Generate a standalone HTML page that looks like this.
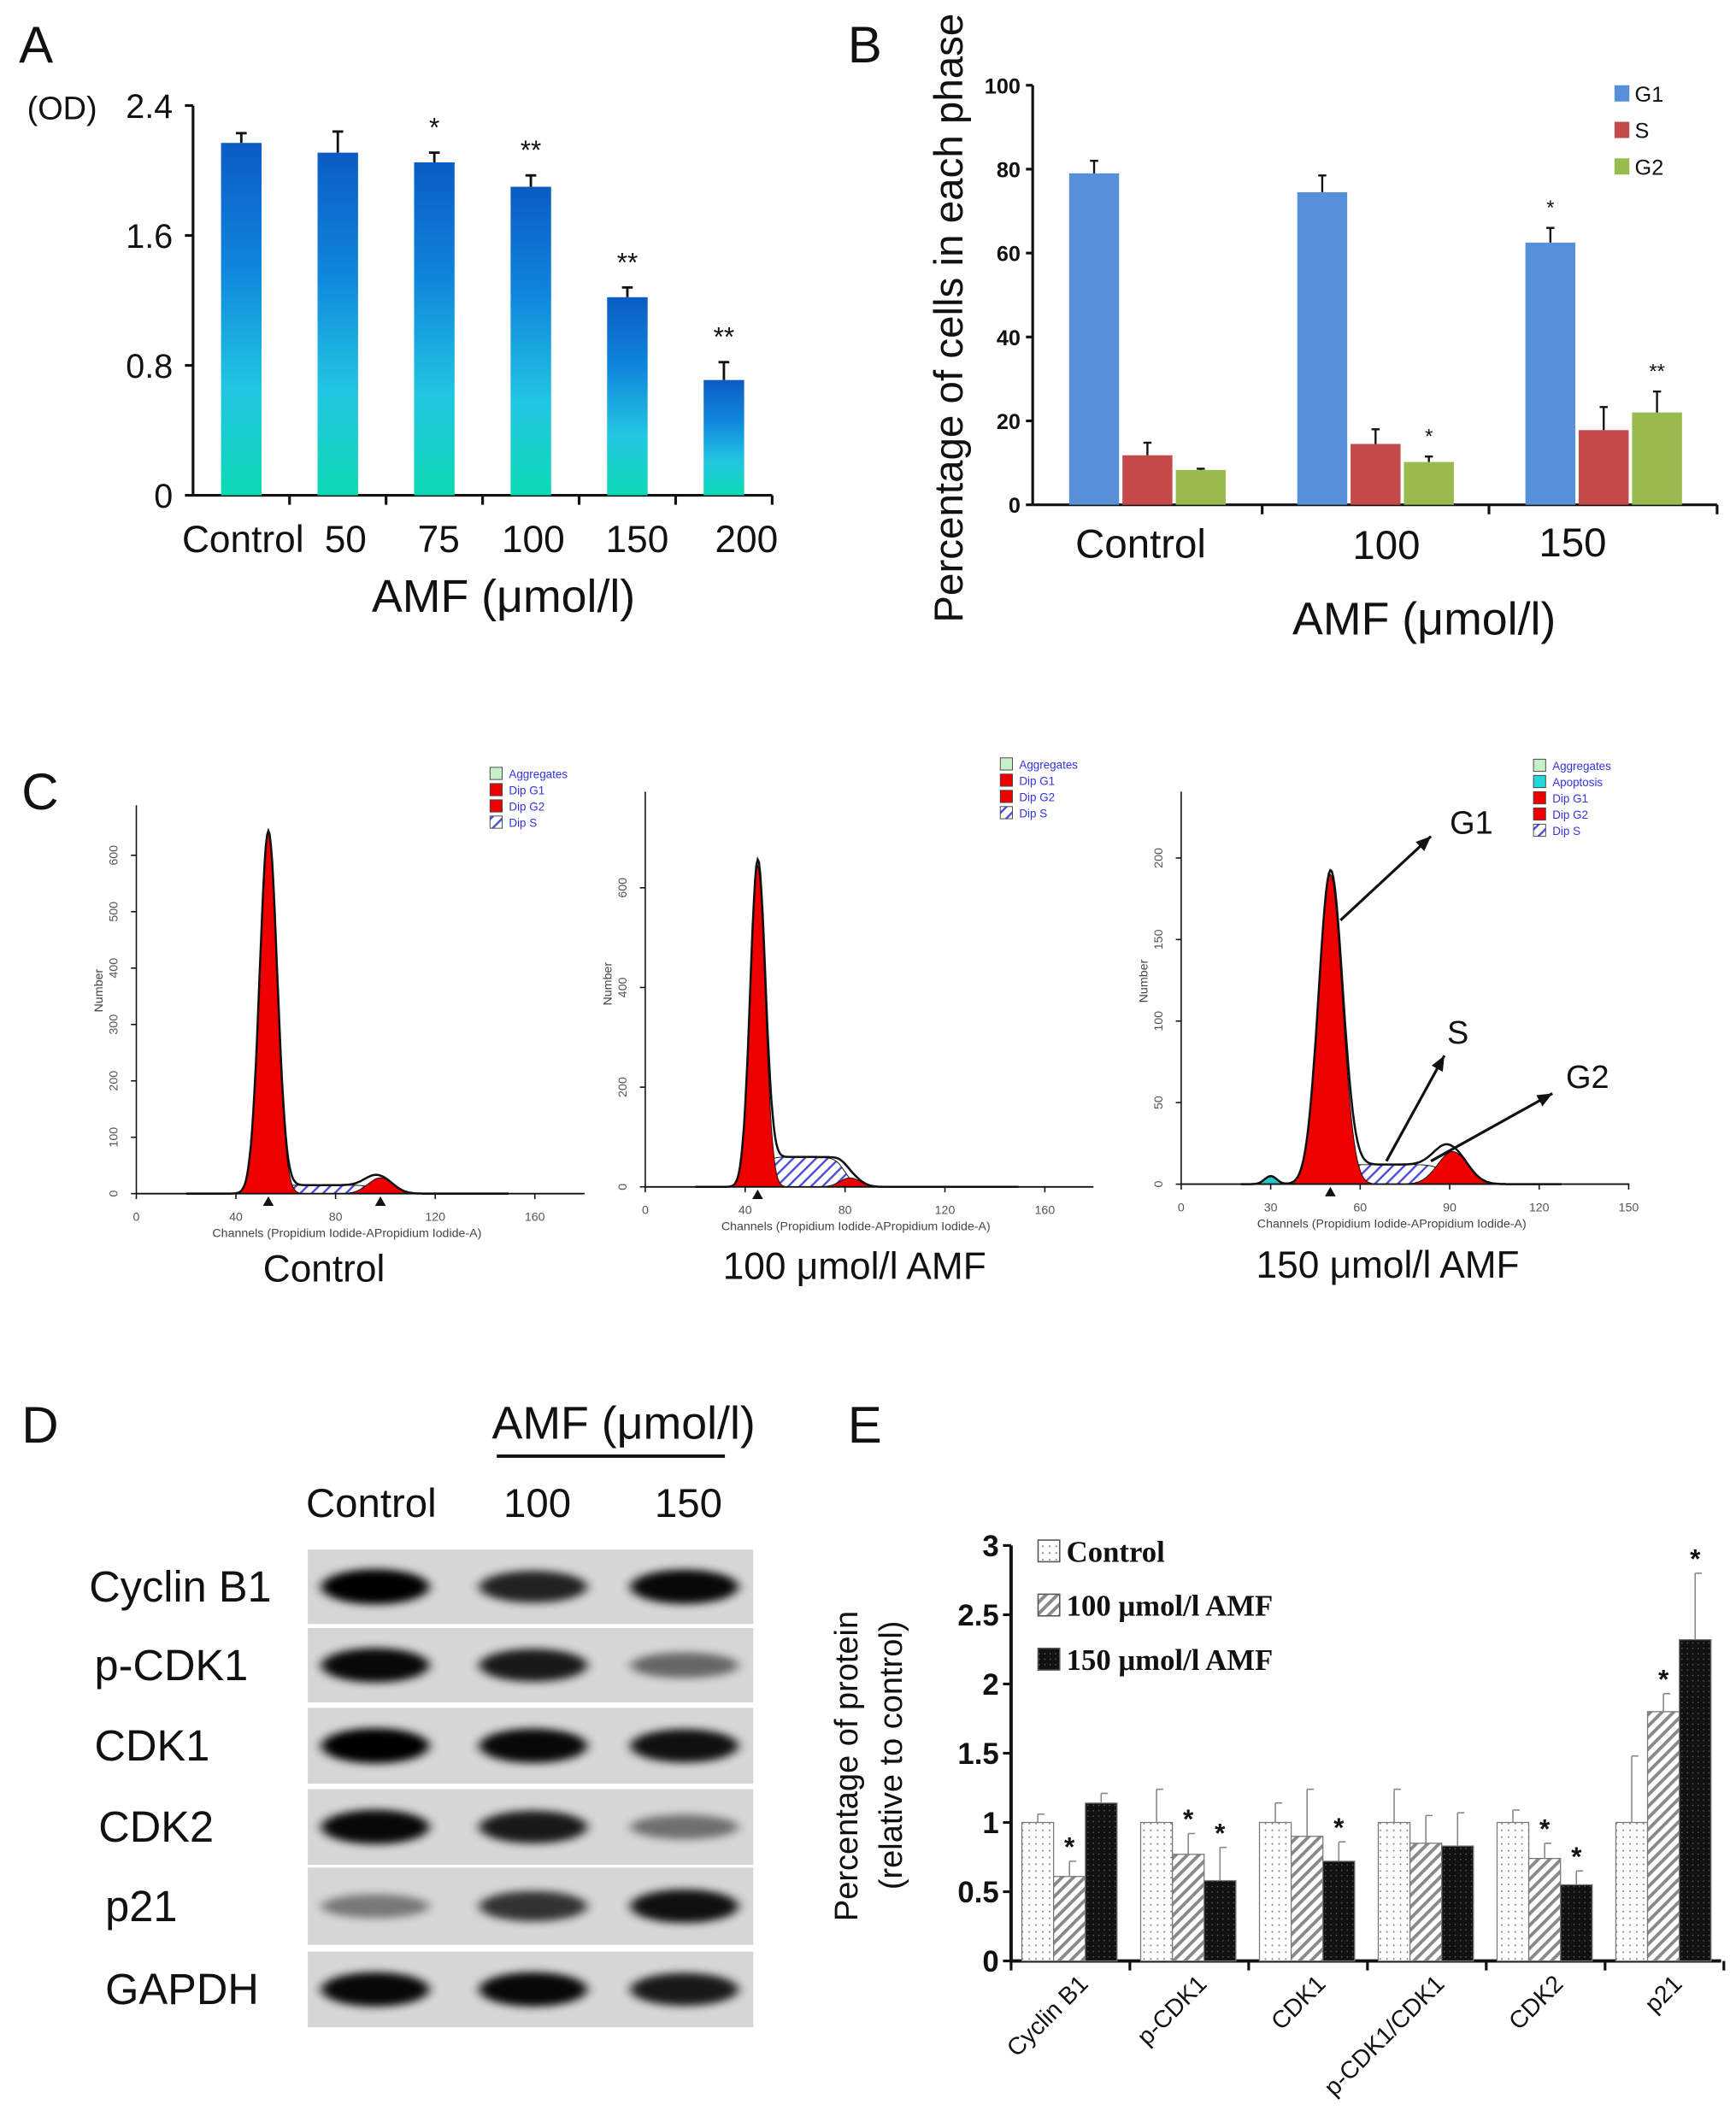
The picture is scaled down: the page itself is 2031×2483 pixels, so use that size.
<!DOCTYPE html>
<html><head><meta charset="utf-8">
<style>
html,body{margin:0;padding:0;background:#fff;}
svg{display:block;font-family:"Liberation Sans",sans-serif;}
</style></head>
<body>
<svg id="fig" xmlns="http://www.w3.org/2000/svg" width="2031" height="2483" viewBox="0 0 1286 1568" preserveAspectRatio="none">
<defs>
<linearGradient id="gA" x1="0" y1="0" x2="0" y2="1">
<stop offset="0" stop-color="#0b5cc2"/><stop offset="0.35" stop-color="#0f86dc"/><stop offset="0.7" stop-color="#22c6e2"/><stop offset="1" stop-color="#0cd9b4"/>
</linearGradient>
<pattern id="pDots" width="5" height="5" patternUnits="userSpaceOnUse"><rect width="5" height="5" fill="#fff"/><circle cx="2.5" cy="2.5" r="0.6" fill="#777"/></pattern>
<pattern id="pHatch" width="6" height="6" patternUnits="userSpaceOnUse" patternTransform="rotate(45)"><rect width="6" height="6" fill="#fff"/><rect width="2.4" height="6" fill="#888"/></pattern>
<pattern id="pDark" width="4" height="4" patternUnits="userSpaceOnUse"><rect width="4" height="4" fill="#111"/><circle cx="2" cy="2" r="0.5" fill="#666"/></pattern>
<pattern id="pBlue" width="6" height="6" patternUnits="userSpaceOnUse" patternTransform="rotate(45)"><rect width="6" height="6" fill="#fff"/><rect width="1.5" height="6" fill="#4a4ad8"/></pattern>
<filter id="blur" x="-30%" y="-80%" width="160%" height="260%"><feGaussianBlur stdDeviation="4 3"/></filter>
<filter id="blurBg"><feGaussianBlur stdDeviation="2"/></filter>
</defs>
</svg>
<script>
// ---------- Panel A data ----------
const aCats = ["Control","50","75","100","150","200"];
const aVals = [2.17,2.11,2.05,1.90,1.22,0.71];
const aErr  = [0.06,0.13,0.06,0.07,0.06,0.11];
const aStars = ["","","*","**","**","**"];
const aTicks = [0,0.8,1.6,2.4];
const aTickLabels = ["0","0.8","1.6","2.4"];
// ---------- Panel B data ----------
const bCats = ["Control","100","150"];
const bSeries = ["G1","S","G2"];
const bG1 = [79,74.5,62.5];
const bS  = [11.8,14.5,17.8];
const bG2 = [8.3,10.2,22];
const bG1Err = [3,4,3.5];
const bSErr  = [3,3.5,5.5];
const bG2Err = [0.3,1.3,5];
const bG1Stars = ["","","*"];
const bSStars = ["","",""];
const bG2Stars = ["","*","**"];
const bTicks = [0,20,40,60,80,100];
// ---------- Panel C data (peak parameters) ----------
const cTitles = ["Control","100 μmol/l AMF","150 μmol/l AMF"];
const cG1Mean = [53,45,50];
const cG1Sd = [3.5,3,4];
const cG1H = [640,644,190];
const cG2Mean = [98,82,91];
const cG2Sd = [5,4,5];
const cG2H = [28,18,20];
const cSH = [15,60,12];
const cApoH = [0,0,5];
const cXTicks = [[0,40,80,120,160],[0,40,80,120,160],[0,30,60,90,120,150]];
const cYTicks = [[0,100,200,300,400,500,600],[0,200,400,600],[0,50,100,150,200]];
// ---------- Panel D data ----------
const dRows = ["Cyclin B1","p-CDK1","CDK1","CDK2","p21","GAPDH"];
const dLanes = ["Control","100","150"];
const dIntensity = [[1,0.8,0.95],[0.95,0.85,0.4],[1,0.95,0.9],[0.95,0.85,0.35],[0.3,0.7,0.9],[0.95,0.95,0.85]];
// ---------- Panel E data ----------
const eCats = ["Cyclin B1","p-CDK1","CDK1","p-CDK1/CDK1","CDK2","p21"];
const eSeries = ["Control","100 μmol/l AMF","150 μmol/l AMF"];
const eCtrl = [1,1,1,1,1,1];
const e100 = [0.61,0.77,0.90,0.85,0.74,1.80];
const e150 = [1.14,0.58,0.72,0.83,0.55,2.32];
const eCtrlErr = [0.06,0.24,0.14,0.24,0.09,0.48];
const e100Err = [0.11,0.15,0.34,0.20,0.11,0.13];
const e150Err = [0.07,0.24,0.14,0.24,0.10,0.48];
const e100Stars = ["*","*","","","*","*"];
const e150Stars = ["","*","*","","*","*"];
const eTicks = [0,0.5,1,1.5,2,2.5,3];
const eTickLabels = ["0","0.5","1","1.5","2","2.5","3"];

const NS="http://www.w3.org/2000/svg";
const svg=document.getElementById('fig');
function mk(tag,attrs,parent,txt){const e=document.createElementNS(NS,tag);for(const k in attrs)e.setAttribute(k,attrs[k]);if(txt!==undefined)e.textContent=txt;(parent||svg).appendChild(e);return e;}
function grp(name){const g=mk('g',{});return g;}
function txt(p,x,y,s,opts,name){const o=Object.assign({x:x,y:y,'font-size':s},opts||{});const t=mk('text',o,p,s===undefined?'':undefined);return t;}
function T(p,x,y,size,content,name,extra){const t=mk('text',Object.assign({x:x,y:y,'font-size':size,fill:'#111'},extra||{}),p,content);return t;}
function line(p,x1,y1,x2,y2,w,c){return mk('line',{x1:x1,y1:y1,x2:x2,y2:y2,stroke:c||'#111','stroke-width':w||1.5},p);}

// panel letters
[["A",14,46],["B",628,46],["C",16,598],["D",16,1066],["E",628,1066]].forEach(l=>{T(svg,l[1],l[2],38,l[0],'panel-label-'+l[0].toLowerCase());});

// ========== Panel A ==========
(function(){
const g=grp('panel-a-chart');
const ax=143, y0=366, yTop=78, xEnd=572;
const y=v=>y0-v/2.4*(y0-yTop);
const slot=(xEnd-ax)/6;
const xc=i=>ax+slot*(i+0.5);
line(g,ax,yTop,ax,y0,2);line(g,ax,y0,xEnd,y0,2);
aTicks.forEach((t,i)=>{line(g,ax-6,y(t),ax,y(t),2);T(g,128,y(t)+9,25,aTickLabels[i],'y-tick-label',{'text-anchor':'end'});});
for(let i=1;i<=6;i++)line(g,ax+slot*i,y0,ax+slot*i,y0+7,2);
T(g,20,88,24,"(OD)",'y-axis-unit');
aVals.forEach((v,i)=>{
 const b=mk('rect',{x:xc(i)-15,y:y(v),width:30,height:y0-y(v),fill:'url(#gA)'},g);
 
 line(g,xc(i),y(v),xc(i),y(v+aErr[i]),1.8);line(g,xc(i)-4,y(v+aErr[i]),xc(i)+4,y(v+aErr[i]),1.8);
 if(aStars[i])T(g,xc(i),y(v+aErr[i])-12,20,aStars[i],'significance-star',{'text-anchor':'middle'});
});
const lx=[180,256,325,395,472,553];
aCats.forEach((c,i)=>T(g,lx[i],408,28,c,'x-tick-label',{'text-anchor':'middle'}));
T(g,373,452,34,"AMF (μmol/l)",'x-axis-title',{'text-anchor':'middle'});
})();

// ========== Panel B ==========
(function(){
const g=grp('panel-b-chart');
const ax=765,y0=373,yTop=63,xEnd=1272;
const y=v=>y0-v/100*(y0-yTop);
const groupStart=[792,961,1130];
const cols=["#5590d8","#c44a4a","#98ba4e"];
const vals=[bG1,bS,bG2],errs=[bG1Err,bSErr,bG2Err],stars=[bG1Stars,bSStars,bG2Stars];
line(g,ax,yTop,ax,y0,2);line(g,ax,y0,xEnd,y0,2);
bTicks.forEach(t=>{line(g,ax-5,y(t),ax,y(t),2);T(g,756,y(t)+6,16,String(t),'y-tick-label',{'text-anchor':'end','font-weight':'bold'});});
[935,1103,1272].forEach(x=>line(g,x,y0,x,y0+7,2));
bCats.forEach((c,ci)=>{
 vals.forEach((arr,si)=>{
  const x=groupStart[ci]+si*39.5, w=37, v=arr[ci];
  const r=mk('rect',{x:x,y:y(v),width:w,height:y0-y(v),fill:cols[si]},g);
  
  const xm=x+w/2, et=y(v+errs[si][ci]);
  line(g,xm,y(v),xm,et,1.5);line(g,xm-3,et,xm+3,et,1.5);
  if(stars[si][ci])T(g,xm,et-10,15,stars[si][ci],'significance-star',{'text-anchor':'middle'});
 });
});
[[845,412],[1027,413],[1165,411]].forEach((p,i)=>T(g,p[0],p[1],30,bCats[i],'x-tick-label',{'text-anchor':'middle'}));
T(g,1055,469,34,"AMF (μmol/l)",'x-axis-title',{'text-anchor':'middle'});
T(g,0,0,30,"Percentage of cells in each phase",'y-axis-title',{'text-anchor':'middle',transform:'translate(713,235) rotate(-90)'});
bSeries.forEach((s,i)=>{const yy=69+i*27;const r=mk('rect',{x:1196,y:yy-6,width:11,height:12,fill:cols[i]},g);T(g,1211,yy+6,16,s,'legend-label');});
})();

// ========== Panel C ==========
(function(){
const cfg=[
 {x0:101,ppc:1.845,yz:882,ppn:250/600,xEnd:433,yTop:595,legX:363,legY:572,leg:["Aggregates","Dip G1","Dip G2","Dip S"],xmax:176},
 {x0:478,ppc:1.85,yz:877,ppn:221/600,xEnd:810,yTop:585,legX:741,legY:565,leg:["Aggregates","Dip G1","Dip G2","Dip S"],xmax:176},
 {x0:875,ppc:2.21,yz:875,ppn:241/200,xEnd:1207,yTop:585,legX:1136,legY:566,leg:["Aggregates","Apoptosis","Dip G1","Dip G2","Dip S"],xmax:150}
];
const gauss=(c,m,s,h)=>h*Math.exp(-0.5*((c-m)/s)**2);
const sig=z=>1/(1+Math.exp(-z));
cfg.forEach((p,k)=>{
 const g=grp('histogram-'+(k+1));
 const X=c=>p.x0+c*p.ppc, Y=n=>p.yz-n*p.ppn;
 const G1=c=>gauss(c,cG1Mean[k],cG1Sd[k],cG1H[k]);
 const G2=c=>gauss(c,cG2Mean[k],cG2Sd[k],cG2H[k]);
 const S=c=>cSH[k]*sig((c-cG1Mean[k]-2)/1.5)*sig((cG2Mean[k]-2-c)/2);
 const A=c=>gauss(c,30,2,cApoH[k]);
 const pts=f=>{let d='M'+X(20)+','+p.yz;for(let c=20;c<=p.xmax*0.85;c+=0.5)d+=' L'+X(c).toFixed(1)+','+Y(f(c)).toFixed(1);return d+' L'+X(p.xmax*0.85)+','+p.yz+'Z';};
 if(cApoH[k])mk('path',{d:pts(A),fill:'#22c8c8',stroke:'#111','stroke-width':0.6},g);
 mk('path',{d:pts(S),fill:'url(#pBlue)',stroke:'#111','stroke-width':0.6},g);
 mk('path',{d:pts(G1),fill:'#ee0000',stroke:'#111','stroke-width':0.6},g);
 mk('path',{d:pts(G2),fill:'#ee0000',stroke:'#111','stroke-width':0.6},g);
 let d='';for(let c=20;c<=p.xmax*0.85;c+=0.5)d+=(d?' L':'M')+X(c).toFixed(1)+','+Y(G1(c)+G2(c)+S(c)+A(c)).toFixed(1);
 mk('path',{d:d,fill:'none',stroke:'#111','stroke-width':1.6},g);
 line(g,p.x0,p.yTop,p.x0,p.yz,1);line(g,p.x0,p.yz,p.xEnd,p.yz,1.2);
 cXTicks[k].forEach(t=>{line(g,X(t),p.yz,X(t),p.yz+4,1);T(g,X(t),p.yz+20,9,String(t),'x-tick-label',{'text-anchor':'middle',fill:'#555'});});
 cYTicks[k].forEach(t=>{line(g,p.x0-4,Y(t),p.x0,Y(t),1);T(g,0,0,9,String(t),'y-tick-label',{'text-anchor':'middle',fill:'#555',transform:`translate(${p.x0-14},${Y(t)}) rotate(-90)`});});
 T(g,(p.x0+p.xEnd)/2-10,p.yz+32,9,"Channels (Propidium Iodide-APropidium Iodide-A)",'x-axis-title',{'text-anchor':'middle',fill:'#444'});
 T(g,0,0,9,"Number",'y-axis-title',{'text-anchor':'middle',fill:'#444',transform:`translate(${p.x0-25},${p.yz-150}) rotate(-90)`});
 // markers
 const mkr=[cG1Mean[k]]; if(k===0)mkr.push(cG2Mean[k]);
 mkr.forEach(m=>mk('path',{d:`M${X(m)-4},${p.yz+9} L${X(m)+4},${p.yz+9} L${X(m)},${p.yz+2}Z`,fill:'#111'},g));
 p.leg.forEach((l,i)=>{const yy=p.legY+i*12;const col=l==="Aggregates"?'#c8f0c8':l==="Apoptosis"?'#22d8d8':l==="Dip S"?'url(#pBlue)':'#ee0000';mk('rect',{x:p.legX,y:yy-5,width:9,height:9,fill:col,stroke:'#444','stroke-width':0.6},g);T(g,p.legX+14,yy+3,8.5,l,'legend-label',{fill:'#3333dd'});});
 T(g,[240,633,1028][k],[947,945,944][k],28,cTitles[k],'histogram-title',{'text-anchor':'middle'});
});
// arrows on panel 3
const ga=grp('phase-annotations');
[[993,680,1060,618,"G1",1090,616],[1027,858,1070,780,"S",1080,771],[1060,858,1150,808,"G2",1176,804]].forEach(a=>{
 line(ga,a[0],a[1],a[2],a[3],2);
 const ang=Math.atan2(a[3]-a[1],a[2]-a[0]),L=12;
 const p1=[a[2]-L*Math.cos(ang-0.4),a[3]-L*Math.sin(ang-0.4)],p2=[a[2]-L*Math.cos(ang+0.4),a[3]-L*Math.sin(ang+0.4)];
 mk('path',{d:`M${a[2]},${a[3]} L${p1[0]},${p1[1]} L${p2[0]},${p2[1]}Z`,fill:'#111'},ga);
 T(ga,a[5],a[6],24,a[4],'phase-label',{'text-anchor':'middle'});
});
})();

// ========== Panel D ==========
(function(){
const g=grp('western-blot');
T(g,462,1063,34,"AMF (μmol/l)",'treatment-header',{'text-anchor':'middle'});
line(g,368,1076,537,1076,2.5);
const lx=[278,395,507];
dLanes.forEach((l,i)=>T(g,[275,398,510][i],1121,30,l,'lane-label',{'text-anchor':'middle'}));
const rowTop=[1145,1203,1262,1322,1380,1442],rowH=[55,55,56,56,57,56];
dRows.forEach((r,ri)=>{
 const rg=mk('g',{},g);
 mk('rect',{x:228,y:rowTop[ri],width:330,height:rowH[ri],fill:'#d6d6d6'},rg);
 const cy=rowTop[ri]+rowH[ri]/2;
 dIntensity[ri].forEach((v,li)=>{
  const e=mk('ellipse',{cx:lx[li],cy:cy,rx:40,ry:7+6*v,fill:'#000',opacity:(0.2+0.8*v).toFixed(2),filter:'url(#blur)'},rg);
  
 });
 T(g,[66,70,70,73,78,78][ri],cy+11,32,r,'protein-label');
});
})();

// ========== Panel E ==========
(function(){
const g=grp('panel-e-chart');
const ax=749,y0=1449,yTop=1142,xEnd=1275;
const y=v=>y0-v/3*(y0-yTop);
const gw=88;
line(g,ax,yTop,ax,y0,2.5);line(g,ax,y0,xEnd,y0,2.5);
eTicks.forEach((t,i)=>{line(g,ax-6,y(t),ax,y(t),2);T(g,740,y(t)+8,22,eTickLabels[i],'y-tick-label',{'text-anchor':'end','font-weight':'bold'});});
for(let i=0;i<=6;i++)line(g,ax+gw*i,y0,ax+gw*i,y0+7,2);
const fills=['url(#pDots)','url(#pHatch)','url(#pDark)'];
const vals=[eCtrl,e100,e150],errs=[eCtrlErr,e100Err,e150Err],stars=[["","","","","",""],e100Stars,e150Stars];
eCats.forEach((c,ci)=>{
 vals.forEach((arr,si)=>{
  const x=ax+gw*ci+8+si*23.5,w=23.5,v=arr[ci];
  const r=mk('rect',{x:x,y:y(v),width:w,height:y0-y(v),fill:fills[si],stroke:'#777','stroke-width':0.8},g);
  
  const xm=x+w/2,et=y(v+errs[si][ci]);
  line(g,xm,y(v),xm,et,1,'#888');line(g,xm,et,xm+5,et,1,'#888');
  if(stars[si][ci])T(g,xm,et-4,20,stars[si][ci],'significance-star',{'text-anchor':'middle','font-weight':'bold'});
 });
 T(g,0,0,18,c,'x-tick-label',{'text-anchor':'end',transform:`translate(${ax+gw*ci+58},${y0+18}) rotate(-45)`});
});
T(g,0,0,24,"Percentage of protein",'y-axis-title',{'text-anchor':'middle',transform:'translate(635,1305) rotate(-90)'});
T(g,0,0,24,"(relative to control)",'y-axis-title',{'text-anchor':'middle',transform:'translate(668,1297) rotate(-90)'});
eSeries.forEach((s,i)=>{const yy=1147+i*40;const r=mk('rect',{x:769,y:yy-9,width:16,height:16,fill:fills[i],stroke:'#555','stroke-width':1},g);T(g,790,yy+7,22,s,'legend-label',{'font-family':'Liberation Serif,serif','font-weight':'bold'});});
})();
</script>
</body></html>
